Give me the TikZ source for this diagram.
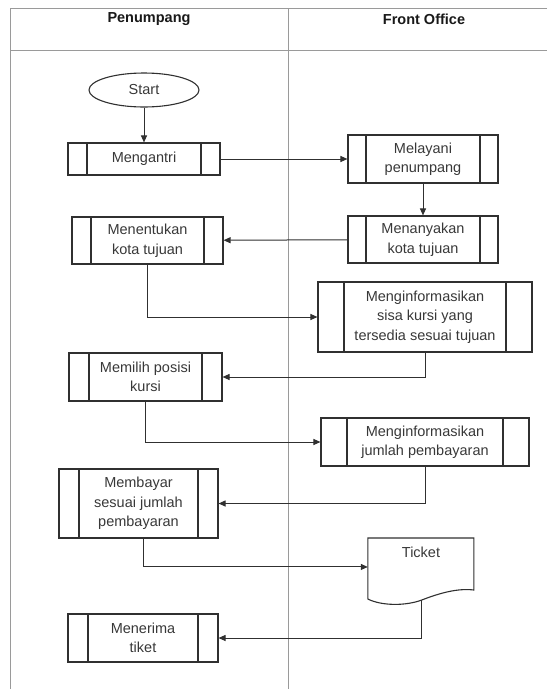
\documentclass[tikz,border=0pt]{standalone}
\usepackage{fontspec}
\setmainfont{Liberation Sans}
\usepackage{tikz}
\usepackage{xcolor}
\usetikzlibrary{calc,arrows.meta,shapes.geometric}
\definecolor{linecolorc}{HTML}{303030}
\definecolor{lanecolorc}{HTML}{9A9A9A}
\colorlet{textc}{black!78}
\colorlet{linecolor}{linecolorc}
\colorlet{lanecolor}{lanecolorc}
\colorlet{textcolor}{textc}
\newcommand{\sidew}{19pt}
\tikzset{sidebar/.code={\def\sidew{#1}}}
\tikzstyle{lane} =[
    draw=lanecolor,
    line width=1pt
    ]
\tikzstyle{lanetitle} =[
    text=black!90,
    font=\bfseries\fontsize{14.5}{17}\selectfont
    ]
\tikzstyle{terminal} =[
    draw=linecolor,
    line width=1.1pt,
    ellipse,
    inner sep=0pt,
    text=textcolor,
    font=\fontsize{14.5}{19.5}\selectfont
    ]
\tikzstyle{process} =[
    draw=linecolor,
    line width=1.1pt,
    rectangle,
    inner sep=0pt,
    text=textcolor,
    align=center,
    font=\fontsize{14.5}{19.5}\selectfont,
    path picture={
      \draw [linecolor, line width=1.1pt]
        ($(path picture bounding box.north west)+(\sidew,0)$) -- ($(path picture bounding box.south west)+(\sidew,0)$)
        ($(path picture bounding box.north east)-(\sidew,0)$) -- ($(path picture bounding box.south east)-(\sidew,0)$);
    }
    ]
\tikzstyle{wideprocess} =[
    process,
    sidebar=26pt
    ]
\tikzstyle{docshape} =[
    draw=linecolor,
    line width=1.1pt
    ]
\tikzstyle{flow} =[
    draw=linecolor,
    line width=1pt,
    -{Triangle[length=7pt,width=6pt]}
    ]

\begin{document}
\begin{tikzpicture}[x=1pt,y=-1pt]
\useasboundingbox (0,0) rectangle (547,689);

% swimlanes
\draw [lane] (547,8) -- (10,8) -- (10,689);
\draw [lane] (10,50) -- (547,50);
\draw [lane] (288,8) -- (288,689);
\node [lanetitle] (penumpang) at (149,19.5) {Penumpang};
\node [lanetitle] (frontoffice) at (424,19.5) {Front Office};

% Penumpang
\node [terminal, minimum width=110pt, minimum height=34pt] (start) at (144,90) {Start};
\node [process, minimum width=152pt, minimum height=32pt] (mengantri) at (144,159) {Mengantri};
\node [process, minimum width=151pt, minimum height=47pt] (menentukan) at (147.5,240.5) {Menentukan\\kota tujuan};
\node [process, sidebar=20pt, minimum width=153pt, minimum height=48pt] (memilih) at (145.5,377) {Memilih posisi\\kursi};
\node [process, sidebar=20pt, minimum width=159pt, minimum height=69pt] (membayar) at (138.5,503.5) {Membayar\\sesuai jumlah\\pembayaran};
\node [process, sidebar=20pt, minimum width=150pt, minimum height=48pt] (menerima) at (143,638) {Menerima\\tiket};

% Front Office
\node [process, sidebar=18pt, minimum width=150pt, minimum height=48pt] (melayani) at (423,159) {Melayani\\penumpang};
\node [process, sidebar=18pt, minimum width=150pt, minimum height=47pt] (menanyakan) at (423,239.5) {Menanyakan\\kota tujuan};
\node [wideprocess, minimum width=214pt, minimum height=70pt] (sisa) at (425,317) {Menginformasikan\\sisa kursi yang\\tersedia sesuai tujuan};
\node [wideprocess, minimum width=208pt, minimum height=48pt] (jumlah) at (425,442) {Menginformasikan\\jumlah pembayaran};
\node [anchor=north, minimum width=106pt, inner ysep=9pt, text depth=29pt,
       text=textcolor, font=\fontsize{14.5}{19.5}\selectfont] (ticket) at (421,538) {Ticket};
\draw [docshape, shift={(ticket.north west)}] (0,0) -- (106,0) -- (106,52)
    .. controls (90,50) and (72,55) .. (54,62) coordinate (ticketbot)
    .. controls (38,68) and (14,68) .. (0,61) -- cycle;

% connectors
\draw [flow] (start) -- (mengantri);
\draw [flow] (mengantri) -- (melayani);
\draw [flow] (melayani) -- (menanyakan);
\draw [flow] (menanyakan) -- (menentukan);
\draw [flow] (menentukan.south) |- (sisa.west);
\draw [flow] (sisa.south) |- (memilih.east);
\draw [flow] (memilih.south) |- (jumlah.west);
\draw [flow] (jumlah.south) |- (membayar.east);
\draw [flow] ([xshift=5pt]membayar.south) |- (ticket.west);
\draw [flow] (ticketbot) |- (menerima.east);
\end{tikzpicture}
\end{document}
